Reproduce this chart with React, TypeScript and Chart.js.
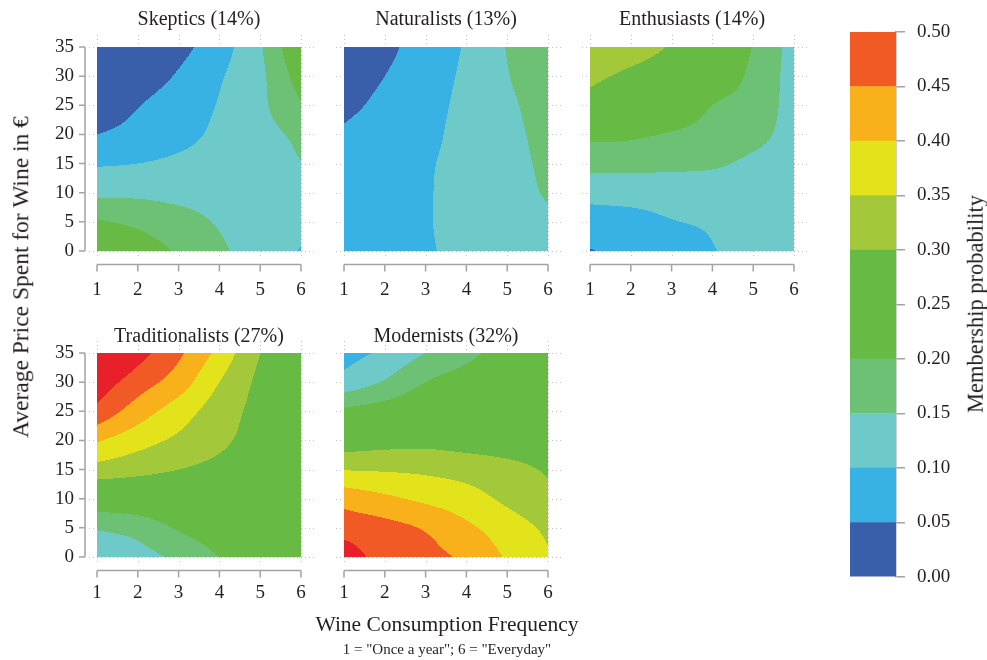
import React, { useEffect, useRef } from "react";
import { Chart, registerables } from "chart.js";

Chart.register(...registerables);

// ---------------- data ----------------
const FREQUENCY_TICKS = [1, 2, 3, 4, 5, 6];
const PRICE_TICKS = [0, 5, 10, 15, 20, 25, 30, 35];

// membership probability surfaces: one row per price (0..35), one column per frequency (1..6)
const SKEPTICS = [
  [0.25, 0.225, 0.195, 0.16, 0.12, 0.098],
  [0.205, 0.19, 0.17, 0.145, 0.12, 0.11],
  [0.14, 0.14, 0.135, 0.13, 0.125, 0.12],
  [0.095, 0.1, 0.11, 0.12, 0.13, 0.148],
  [0.05, 0.065, 0.085, 0.11, 0.135, 0.16],
  [0.025, 0.048, 0.075, 0.103, 0.14, 0.195],
  [0.01, 0.025, 0.055, 0.095, 0.14, 0.225],
  [0.0, 0.01, 0.035, 0.08, 0.145, 0.255],
];
const NATURALISTS = [
  [0.055, 0.065, 0.093, 0.115, 0.12, 0.13],
  [0.055, 0.065, 0.095, 0.12, 0.125, 0.14],
  [0.06, 0.07, 0.095, 0.12, 0.13, 0.155],
  [0.06, 0.07, 0.093, 0.12, 0.135, 0.16],
  [0.055, 0.07, 0.085, 0.12, 0.138, 0.165],
  [0.04, 0.06, 0.08, 0.115, 0.142, 0.17],
  [0.03, 0.05, 0.075, 0.11, 0.148, 0.175],
  [0.02, 0.04, 0.07, 0.105, 0.152, 0.18],
];
const ENTHUSIASTS = [
  [0.048, 0.06, 0.075, 0.098, 0.11, 0.115],
  [0.072, 0.083, 0.098, 0.105, 0.115, 0.118],
  [0.12, 0.12, 0.12, 0.12, 0.12, 0.12],
  [0.165, 0.165, 0.162, 0.157, 0.14, 0.125],
  [0.215, 0.21, 0.195, 0.18, 0.165, 0.13],
  [0.28, 0.27, 0.25, 0.2, 0.18, 0.13],
  [0.31, 0.29, 0.27, 0.237, 0.188, 0.13],
  [0.34, 0.325, 0.295, 0.256, 0.198, 0.13],
];
const TRADITIONALISTS = [
  [0.11, 0.13, 0.162, 0.2, 0.22, 0.23],
  [0.155, 0.17, 0.205, 0.225, 0.235, 0.24],
  [0.24, 0.245, 0.25, 0.25, 0.25, 0.25],
  [0.33, 0.315, 0.3, 0.285, 0.27, 0.255],
  [0.405, 0.37, 0.34, 0.31, 0.28, 0.26],
  [0.485, 0.425, 0.375, 0.325, 0.285, 0.262],
  [0.53, 0.475, 0.425, 0.35, 0.29, 0.265],
  [0.58, 0.52, 0.46, 0.385, 0.3, 0.27],
];
const MODERNISTS = [
  [0.53, 0.48, 0.465, 0.44, 0.395, 0.355],
  [0.48, 0.465, 0.445, 0.41, 0.375, 0.34],
  [0.43, 0.41, 0.39, 0.37, 0.34, 0.31],
  [0.348, 0.345, 0.34, 0.33, 0.315, 0.295],
  [0.27, 0.28, 0.285, 0.28, 0.275, 0.27],
  [0.21, 0.225, 0.245, 0.26, 0.265, 0.265],
  [0.12, 0.155, 0.2, 0.225, 0.245, 0.255],
  [0.08, 0.11, 0.15, 0.185, 0.225, 0.245],
];

const SEGMENT_TITLES = [
  "Skeptics (14%)",
  "Naturalists (13%)",
  "Enthusiasts (14%)",
  "Traditionalists (27%)",
  "Modernists (32%)",
];

const BAND_LIMITS = [0, 0.05, 0.1, 0.15, 0.2, 0.25, 0.3, 0.35, 0.4, 0.45, 0.5];
const BAND_COLORS = [
  "#3a5faa",
  "#38b2e5",
  "#6ecac8",
  "#6dc174",
  "#67bb45",
  "#67bb45",
  "#a3c93a",
  "#e3e31b",
  "#f9b11b",
  "#f15a24",
];
const ABOVE_COLOR = "#e8202a";
const COLORBAR_TICK_STEP = 0.05;

const X_TITLE = "Wine Consumption Frequency";
const X_SUBTITLE = '1 = "Once a year"; 6 = "Everyday"';
const Y_TITLE = "Average Price Spent for Wine in €";
const BAR_TITLE = "Membership probability";

// ---------------- styling / layout ----------------
const FONT = "'Liberation Serif', 'Times New Roman', serif";
const TEXT = "#231f20";
const AXIS = "#a3a3a3";
const PLOT_LEFTS = [97, 344, 590];
const PLOT_TOPS = [47, 353];
const PLOT = 204;
const ROW_STYLE = [
  { titleTop: 8, tickGap: 25 },
  { titleTop: 18.7, tickGap: 22 },
];

function hexToRgb(h: string): [number, number, number] {
  return [parseInt(h.slice(1, 3), 16), parseInt(h.slice(3, 5), 16), parseInt(h.slice(5, 7), 16)];
}
const BAND_RGB = BAND_COLORS.map(hexToRgb);
const ABOVE_RGB = hexToRgb(ABOVE_COLOR);

function colorFor(v: number): [number, number, number] {
  for (let k = 0; k < BAND_RGB.length; k++) {
    if (v < BAND_LIMITS[k + 1]) return BAND_RGB[k];
  }
  return ABOVE_RGB;
}

function node(g: number[][], j: number, i: number): number {
  const nj = g.length;
  const ni = g[0].length;
  if (j < 0) return 2 * node(g, 0, i) - node(g, 1, i);
  if (j >= nj) return 2 * node(g, nj - 1, i) - node(g, nj - 2, i);
  if (i < 0) return 2 * g[j][0] - g[j][1];
  if (i >= ni) return 2 * g[j][ni - 1] - g[j][ni - 2];
  return g[j][i];
}
function cr(p0: number, p1: number, p2: number, p3: number, t: number) {
  return (
    0.5 *
    (2 * p1 +
      (-p0 + p2) * t +
      (2 * p0 - 5 * p1 + 4 * p2 - p3) * t * t +
      (-p0 + 3 * p1 - 3 * p2 + p3) * t * t * t)
  );
}
function surface(g: number[][], xv: number, yv: number) {
  const fx = (xv - FREQUENCY_TICKS[0]) / (FREQUENCY_TICKS[1] - FREQUENCY_TICKS[0]);
  const fy = (yv - PRICE_TICKS[0]) / (PRICE_TICKS[1] - PRICE_TICKS[0]);
  const ni = g[0].length;
  const nj = g.length;
  let i = Math.floor(fx);
  let j = Math.floor(fy);
  i = Math.max(0, Math.min(ni - 2, i));
  j = Math.max(0, Math.min(nj - 2, j));
  const tx = fx - i;
  const ty = fy - j;
  const r: number[] = [];
  for (let k = -1; k <= 2; k++) {
    r.push(cr(node(g, j + k, i - 1), node(g, j + k, i), node(g, j + k, i + 1), node(g, j + k, i + 2), tx));
  }
  return cr(r[0], r[1], r[2], r[3], ty);
}

const contourPlugin = {
  id: "contour",
  beforeDatasetsDraw(chart: any, _args: any, opts: any) {
    const grid: number[][] = opts.grid;
    const { ctx, chartArea } = chart;
    const xs = chart.scales.x;
    const ys = chart.scales.y;
    // faint dotted grid (extends slightly beyond the surface)
    ctx.save();
    ctx.strokeStyle = "rgba(170,170,170,0.7)";
    ctx.lineWidth = 1;
    ctx.setLineDash([1, 3]);
    ctx.beginPath();
    for (const t of PRICE_TICKS) {
      const py = Math.round(ys.getPixelForValue(t)) + 0.5;
      ctx.moveTo(chartArea.left - 8, py);
      ctx.lineTo(chartArea.right + 14, py);
    }
    for (const t of FREQUENCY_TICKS) {
      const px = Math.round(xs.getPixelForValue(t)) + 0.5;
      ctx.moveTo(px, chartArea.top - 12);
      ctx.lineTo(px, chartArea.bottom + 6);
    }
    ctx.stroke();
    ctx.restore();

    const L = Math.round(chartArea.left);
    const T = Math.round(chartArea.top);
    const W = Math.round(chartArea.right) - L;
    const H = Math.round(chartArea.bottom) - T;
    const off = document.createElement("canvas");
    off.width = W;
    off.height = H;
    const octx = off.getContext("2d")!;
    const img = octx.createImageData(W, H);
    const d = img.data;
    for (let py = 0; py < H; py++) {
      const yv = ys.getValueForPixel(T + py + 0.5);
      for (let px = 0; px < W; px++) {
        const xv = xs.getValueForPixel(L + px + 0.5);
        const c = colorFor(surface(grid, xv, yv));
        const o = (py * W + px) * 4;
        d[o] = c[0];
        d[o + 1] = c[1];
        d[o + 2] = c[2];
        d[o + 3] = 255;
      }
    }
    octx.putImageData(img, 0, 0);
    ctx.drawImage(off, L, T);
  },
  afterDraw(chart: any, _args: any, opts: any) {
    const { ctx, chartArea } = chart;
    const xs = chart.scales.x;
    const ys = chart.scales.y;
    ctx.save();
    ctx.strokeStyle = AXIS;
    ctx.lineWidth = 1.5;
    ctx.beginPath();
    const yAx = chartArea.bottom + 13.5;
    ctx.moveTo(xs.getPixelForValue(FREQUENCY_TICKS[0]), yAx);
    ctx.lineTo(xs.getPixelForValue(FREQUENCY_TICKS[FREQUENCY_TICKS.length - 1]), yAx);
    for (const t of FREQUENCY_TICKS) {
      const px = xs.getPixelForValue(t);
      ctx.moveTo(px, yAx);
      ctx.lineTo(px, yAx + 7);
    }
    if (opts.showY) {
      const xAx = chartArea.left - 12;
      ctx.moveTo(xAx, ys.getPixelForValue(PRICE_TICKS[0]));
      ctx.lineTo(xAx, ys.getPixelForValue(PRICE_TICKS[PRICE_TICKS.length - 1]));
      for (const t of PRICE_TICKS) {
        const py = ys.getPixelForValue(t);
        ctx.moveTo(xAx, py);
        ctx.lineTo(xAx - 6, py);
      }
    }
    ctx.stroke();
    ctx.restore();
  },
};

const CANVAS_W = 90 + PLOT + 20;
const CANVAS_H = 47 + PLOT + 55;

function Panel(props: { title: string; grid: number[][]; col: number; row: number }) {
  const ref = useRef<HTMLCanvasElement | null>(null);
  const { title, grid, col, row } = props;
  const showY = col === 0;
  const rs = ROW_STYLE[row];
  useEffect(() => {
    const points: { x: number; y: number }[] = [];
    PRICE_TICKS.forEach((p) => FREQUENCY_TICKS.forEach((f) => points.push({ x: f, y: p })));
    const chart = new Chart(ref.current!, {
      type: "scatter",
      data: {
        datasets: [{ data: points, pointRadius: 0, pointHoverRadius: 0, showLine: false }],
      },
      plugins: [contourPlugin as any],
      options: {
        animation: false,
        responsive: false,
        events: [],
        layout: { padding: { left: 0, right: 20, top: 0, bottom: 0 } },
        plugins: {
          legend: { display: false },
          tooltip: { enabled: false },
          title: {
            display: true,
            fullSize: false,
            text: title,
            color: TEXT,
            font: { family: FONT, size: 20, weight: "normal", lineHeight: 1.2 },
            padding: { top: rs.titleTop, bottom: 47 - rs.titleTop - 24 },
          },
          contour: { grid, showY },
        } as any,
        scales: {
          x: {
            type: "linear",
            position: "bottom",
            min: FREQUENCY_TICKS[0],
            max: FREQUENCY_TICKS[FREQUENCY_TICKS.length - 1],
            ticks: {
              stepSize: 1,
              padding: 3,
              color: TEXT,
              font: { family: FONT, size: 19, lineHeight: 1.2 },
              maxRotation: 0,
              autoSkip: false,
            },
            grid: {
              display: true,
              drawOnChartArea: false,
              drawTicks: true,
              tickLength: rs.tickGap,
              color: "rgba(0,0,0,0)",
            },
            border: { display: false },
            afterFit: (s: any) => {
              s.height = 55;
            },
          },
          y: {
            type: "linear",
            position: "left",
            min: PRICE_TICKS[0],
            max: PRICE_TICKS[PRICE_TICKS.length - 1],
            ticks: {
              display: showY,
              stepSize: 5,
              padding: 23,
              color: TEXT,
              font: { family: FONT, size: 19, lineHeight: 1.2 },
            },
            grid: { display: false, drawTicks: false, tickLength: 0 },
            border: { display: false },
            afterFit: (s: any) => {
              s.width = 90;
            },
          },
        },
      } as any,
    });
    return () => chart.destroy();
  }, []);
  return (
    <canvas
      ref={ref}
      width={CANVAS_W}
      height={CANVAS_H}
      style={{
        position: "absolute",
        left: PLOT_LEFTS[col] - 90,
        top: PLOT_TOPS[row] - 47,
        width: CANVAS_W,
        height: CANVAS_H,
      }}
    />
  );
}

const BAR_LEFT = 850;
const BAR_W = 46;
const BAR_TOP = 32;
const BAR_BOTTOM = 577;

// merge neighbouring bands that share a colour into one floating bar
function colorbarSegments() {
  const segs: { lo: number; hi: number; color: string }[] = [];
  BAND_COLORS.forEach((c, k) => {
    const last = segs[segs.length - 1];
    if (last && last.color === c) last.hi = BAND_LIMITS[k + 1];
    else segs.push({ lo: BAND_LIMITS[k], hi: BAND_LIMITS[k + 1], color: c });
  });
  return segs;
}

function ColorBar() {
  const ref = useRef<HTMLCanvasElement | null>(null);
  useEffect(() => {
    const segs = colorbarSegments();
    const chart = new Chart(ref.current!, {
      type: "bar",
      data: {
        labels: [""],
        datasets: segs.map((s) => ({
          data: [[s.lo, s.hi]],
          backgroundColor: s.color,
          borderWidth: 0,
          barPercentage: 1,
          categoryPercentage: 1,
          grouped: false,
        })) as any,
      },
      options: {
        animation: false,
        responsive: false,
        events: [],
        layout: { padding: { left: 0, right: 0, top: BAR_TOP, bottom: 660 - BAR_BOTTOM } },
        plugins: { legend: { display: false }, tooltip: { enabled: false } },
        scales: {
          x: { display: false },
          y: {
            position: "right",
            min: BAND_LIMITS[0],
            max: BAND_LIMITS[BAND_LIMITS.length - 1],
            ticks: {
              stepSize: COLORBAR_TICK_STEP,
              padding: 12,
              color: TEXT,
              font: { family: FONT, size: 19, lineHeight: 1.2 },
              callback: (v: any) => Number(v).toFixed(2),
            },
            grid: { drawOnChartArea: false, drawTicks: true, tickLength: 9, color: AXIS, lineWidth: 1.5 },
            border: { display: true, color: AXIS, width: 1.5 },
            afterFit: (s: any) => {
              s.width = 987 - BAR_LEFT - BAR_W;
            },
          },
        },
      } as any,
    });
    return () => chart.destroy();
  }, []);
  return (
    <canvas
      ref={ref}
      width={987 - BAR_LEFT}
      height={660}
      style={{ position: "absolute", left: BAR_LEFT, top: 0, width: 987 - BAR_LEFT, height: 660 }}
    />
  );
}

function Label(props: { text: string; x: number; y: number; size: number; rotate?: boolean }) {
  const { text, x, y, size, rotate } = props;
  return (
    <div
      style={{
        position: "absolute",
        left: x,
        top: y,
        transform: `translate(-50%, -50%)${rotate ? " rotate(-90deg)" : ""}`,
        fontFamily: FONT,
        fontSize: size,
        lineHeight: `${size}px`,
        color: TEXT,
        whiteSpace: "nowrap",
      }}
    >
      {text}
    </div>
  );
}

const GRIDS = [SKEPTICS, NATURALISTS, ENTHUSIASTS, TRADITIONALISTS, MODERNISTS];

export default function App() {
  return (
    <div
      style={{
        position: "absolute",
        left: 0,
        top: 0,
        width: 987,
        height: 660,
        background: "#ffffff",
        overflow: "hidden",
      }}
    >
      {GRIDS.map((g, k) => (
        <Panel key={k} title={SEGMENT_TITLES[k]} grid={g} col={k % 3} row={Math.floor(k / 3)} />
      ))}
      <ColorBar />
      <Label text={Y_TITLE} x={21} y={277} size={23.5} rotate />
      <Label text={X_TITLE} x={447} y={625} size={21.5} />
      <Label text={X_SUBTITLE} x={447} y={649} size={15} />
      <Label text={BAR_TITLE} x={976} y={304} size={22.5} rotate />
    </div>
  );
}
